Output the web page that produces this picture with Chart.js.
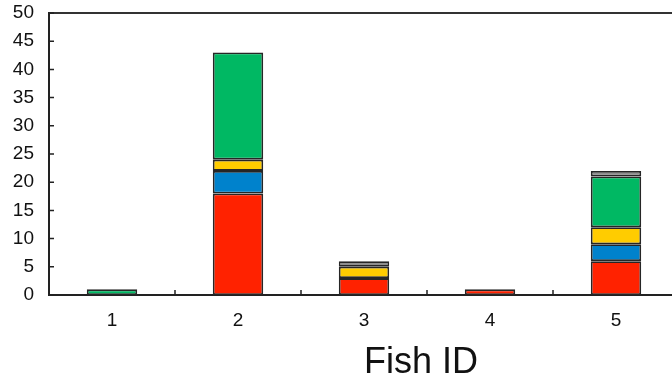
<!DOCTYPE html>
<html>
<head>
<meta charset="utf-8">
<script src="https://cdn.jsdelivr.net/npm/chart.js@4"></script>
<style>
  html, body { margin: 0; padding: 0; background: #fff; overflow: hidden; }
  #wrap { position: relative; width: 680px; height: 382px; }
</style>
</head>
<body>
<div id="wrap"><canvas id="c" width="680" height="382"></canvas></div>
<script>
// Fish IDs along the x axis
const fishIds = ['1', '2', '3', '4', '5'];
// Stacked counts per fish, bottom to top
const redCounts    = [null, 18, 3, 1, 6];
const blueCounts   = [null, 4, null, null, 3];
const yellowCounts = [null, 2, 2, null, 3];
const greenCounts  = [1, 19, null, null, 9];
const greyCounts   = [null, null, 1, null, 1];
// Y axis range
const yMin = 0, yMax = 50, yStep = 5;
const xTitle = 'Fish ID';

const FONT = '"Liberation Sans", Arial, Helvetica, sans-serif';
const AXIS = '#222';

// Inward tick marks, top frame line and axis title
const framePlugin = {
  id: 'frame',
  afterDraw(chart) {
    const { ctx, chartArea: a, scales: { x, y } } = chart;
    ctx.save();
    ctx.strokeStyle = '#333';
    ctx.lineWidth = 2;
    ctx.beginPath();
    ctx.moveTo(a.left, a.top);
    ctx.lineTo(a.right, a.top);
    ctx.lineTo(a.right, a.bottom);
    ctx.stroke();
    ctx.strokeStyle = AXIS;
    ctx.lineWidth = 1.5;
    ctx.beginPath();
    y.ticks.forEach(t => {
      const py = y.getPixelForValue(t.value);
      ctx.moveTo(a.left, py);
      ctx.lineTo(a.left + 5, py);
    });
    for (let i = 0; i < fishIds.length - 1; i++) {
      const px = (x.getPixelForValue(i) + x.getPixelForValue(i + 1)) / 2;
      ctx.moveTo(px, a.bottom);
      ctx.lineTo(px, a.bottom - 5);
    }
    ctx.stroke();
    ctx.fillStyle = '#111';
    ctx.font = '36px ' + FONT;
    ctx.textAlign = 'center';
    ctx.textBaseline = 'alphabetic';
    ctx.fillText(xTitle, 421, 373);
    ctx.restore();
  }
};

const mk = (label, data, color) => ({
  label, data, backgroundColor: color, borderColor: '#262626', borderWidth: 1.8, borderSkipped: false
});

new Chart(document.getElementById('c'), {
  type: 'bar',
  data: {
    labels: fishIds,
    datasets: [
      mk('red', redCounts, '#ff2200'),
      mk('blue', blueCounts, '#0082cc'),
      mk('yellow', yellowCounts, '#ffcc00'),
      mk('green', greenCounts, '#00b863'),
      mk('grey', greyCounts, '#8e8e8e')
    ]
  },
  options: {
    responsive: false,
    animation: false,
    devicePixelRatio: 1,
    layout: { padding: { top: 13, right: 1, left: 0, bottom: 0 } },
    plugins: { legend: { display: false }, tooltip: { enabled: false } },
    datasets: { bar: { categoryPercentage: 1, barPercentage: 0.4 } },
    scales: {
      x: {
        stacked: true,
        grid: { display: false, drawTicks: false },
        border: { display: true, color: AXIS, width: 2 },
        ticks: { color: '#111', font: { family: FONT, size: 19 }, padding: 14, maxRotation: 0 },
        afterFit(s) { s.height = 87; s.paddingLeft = 0; s.paddingRight = 0; }
      },
      y: {
        stacked: true,
        min: yMin, max: yMax,
        grid: { display: false, drawTicks: false },
        border: { display: true, color: AXIS, width: 2 },
        ticks: { stepSize: yStep, color: '#111', font: { family: FONT, size: 19 }, padding: 15 },
        afterFit(s) { s.width = 49; s.paddingTop = 0; s.paddingBottom = 0; }
      }
    }
  },
  plugins: [framePlugin]
});
</script>
</body>
</html>
